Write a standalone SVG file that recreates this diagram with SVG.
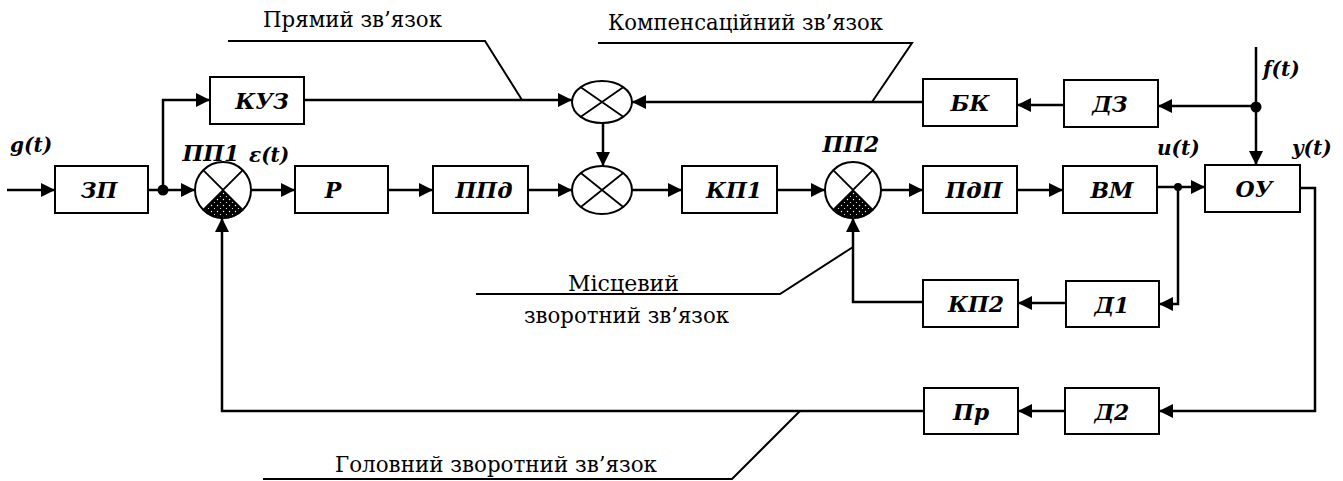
<svg xmlns="http://www.w3.org/2000/svg" width="1343" height="481" viewBox="0 0 1343 481">
<style>
.blk{fill:#fff;stroke:#000;stroke-width:2}
.ln{fill:none;stroke:#000;stroke-width:2.5}
.arr{fill:none;stroke:#000;stroke-width:2.5;marker-end:url(#ah)}
.lead{fill:none;stroke:#000;stroke-width:2}
.sum{fill:#fff;stroke:#000;stroke-width:2}
.x{fill:none;stroke:#000;stroke-width:1.8}
</style>
<defs>
<marker id="ah" markerUnits="userSpaceOnUse" markerWidth="15" markerHeight="14" refX="14" refY="7" orient="auto">
<path d="M0,0 L14,7 L0,14 z" fill="#000"/>
</marker>
<pattern id="dots" width="6" height="6" patternUnits="userSpaceOnUse">
<rect width="6" height="6" fill="#000"/>
<circle cx="1.5" cy="1.5" r="0.7" fill="#fff"/>
<circle cx="4.5" cy="4.5" r="0.6" fill="#fff"/>
</pattern>
</defs>
<rect width="1343" height="481" fill="#fff"/>

<g id="connectors">
<path class="arr" d="M7,190 H55"/>
<path class="ln" d="M148,190 H163"/>
<path class="arr" d="M163,190 H195"/>
<path class="arr" d="M163,190 V100 H210"/>
<path class="arr" d="M304,100 H572"/>
<path class="arr" d="M251,190 H295"/>
<path class="arr" d="M388,190 H433"/>
<path class="arr" d="M528,190 H572"/>
<path class="arr" d="M603,123 V166"/>
<path class="arr" d="M632,190 H682"/>
<path class="arr" d="M777,190 H825"/>
<path class="arr" d="M881,190 H923"/>
<path class="arr" d="M1017,190 H1063"/>
<path class="arr" d="M1157,187 H1205"/>
<path class="arr" d="M1256,47 V165"/>
<path class="arr" d="M1256,106 H1158"/>
<path class="arr" d="M1064,105 H1017"/>
<path class="arr" d="M923,102 H632"/>
<path class="arr" d="M1178,187 V304 H1159"/>
<path class="arr" d="M1066,303 H1018"/>
<path class="arr" d="M923,302 H853 V218"/>
<path class="arr" d="M1300,188 H1315 V411 H1159"/>
<path class="arr" d="M1065,411 H1018"/>
<path class="arr" d="M924,411 H222 V218"/>
<circle cx="163" cy="190" r="5.5" fill="#000"/>
<circle cx="1256" cy="107" r="5.5" fill="#000"/>
<circle cx="1178" cy="187" r="4" fill="#000"/>
</g>

<g id="annotations">
<path class="lead" d="M228,41 H485 L522,100"/>
<path class="lead" d="M598,43 H912 L872,102"/>
<path class="lead" d="M476,294 H780 L853,247"/>
<path class="lead" d="M263,479 H732 L800,411"/>
<g font-family="DejaVu Serif, serif" font-size="23" fill="#000">
<text x="263" y="27" textLength="179" lengthAdjust="spacingAndGlyphs">Прямий зв’язок</text>
<text x="608" y="30" textLength="275" lengthAdjust="spacingAndGlyphs">Компенсаційний зв’язок</text>
<text x="568" y="291" textLength="111" lengthAdjust="spacingAndGlyphs">Місцевий</text>
<text x="524" y="323" textLength="205" lengthAdjust="spacingAndGlyphs">зворотний зв’язок</text>
<text x="335" y="472" textLength="322" lengthAdjust="spacingAndGlyphs">Головний зворотний зв’язок</text>
</g>
</g>

<g id="signals" font-family="DejaVu Serif, serif" font-weight="bold" font-style="italic" font-size="20" fill="#000">
<text x="10" y="152">g(t)</text>
<text x="249" y="162">ε(t)</text>
<text x="1157" y="155">u(t)</text>
<text x="1292" y="155">y(t)</text>
<text x="1263" y="76">f(t)</text>
</g>

<g font-family="DejaVu Serif, serif" font-weight="bold" font-style="italic" font-size="22" fill="#000" text-anchor="middle">
<g id="ZP"><rect class="blk" x="55" y="166" width="93" height="47"/><text x="99" y="198">ЗП</text></g>
<g id="KUZ"><rect class="blk" x="210" y="77" width="94" height="47"/><text x="262" y="109">КУЗ</text></g>
<g id="PP1">
<circle class="sum" cx="223" cy="190" r="28"/>
<path d="M223,190 L203.2,209.8 A28,28 0 0 0 242.8,209.8 Z" fill="url(#dots)" stroke="#000" stroke-width="1.5"/>
<path class="x" d="M203.2,170.2 L223,190 L242.8,170.2"/>
<text x="211" y="161">ПП1</text>
</g>
<g id="R"><rect class="blk" x="295" y="166" width="93" height="47"/><text x="333" y="198">Р</text></g>
<g id="PPd"><rect class="blk" x="433" y="166" width="95" height="47"/><text x="484" y="198">ППд</text></g>
<g id="S1">
<ellipse class="sum" cx="602" cy="102" rx="30" ry="21"/>
<path class="x" d="M580.8,87.2 L623.2,116.8 M623.2,87.2 L580.8,116.8"/>
</g>
<g id="S2">
<ellipse class="sum" cx="602" cy="190" rx="30" ry="24"/>
<path class="x" d="M580.8,173 L623.2,207 M623.2,173 L580.8,207"/>
</g>
<g id="KP1"><rect class="blk" x="682" y="166" width="95" height="47"/><text x="734" y="198">КП1</text></g>
<g id="PP2">
<circle class="sum" cx="853" cy="190" r="28"/>
<path d="M853,190 L833.2,209.8 A28,28 0 0 0 872.8,209.8 Z" fill="url(#dots)" stroke="#000" stroke-width="1.5"/>
<path class="x" d="M833.2,170.2 L853,190 L872.8,170.2"/>
<text x="851" y="152">ПП2</text>
</g>
<g id="PdP"><rect class="blk" x="923" y="166" width="94" height="47"/><text x="974" y="198">ПдП</text></g>
<g id="VM"><rect class="blk" x="1063" y="166" width="94" height="47"/><text x="1112" y="198">ВМ</text></g>
<g id="OU"><rect class="blk" x="1205" y="165" width="95" height="47"/><text x="1254" y="197">ОУ</text></g>
<g id="BK"><rect class="blk" x="923" y="79" width="94" height="47"/><text x="970" y="111">БК</text></g>
<g id="D3"><rect class="blk" x="1064" y="80" width="94" height="47"/><text x="1110" y="112">ДЗ</text></g>
<g id="KP2"><rect class="blk" x="923" y="280" width="95" height="47"/><text x="976" y="312">КП2</text></g>
<g id="D1"><rect class="blk" x="1066" y="281" width="93" height="46"/><text x="1112" y="313">Д1</text></g>
<g id="Pr"><rect class="blk" x="924" y="388" width="94" height="46"/><text x="971" y="420">Пр</text></g>
<g id="D2"><rect class="blk" x="1065" y="388" width="94" height="46"/><text x="1112" y="420">Д2</text></g>
</g>
</svg>
